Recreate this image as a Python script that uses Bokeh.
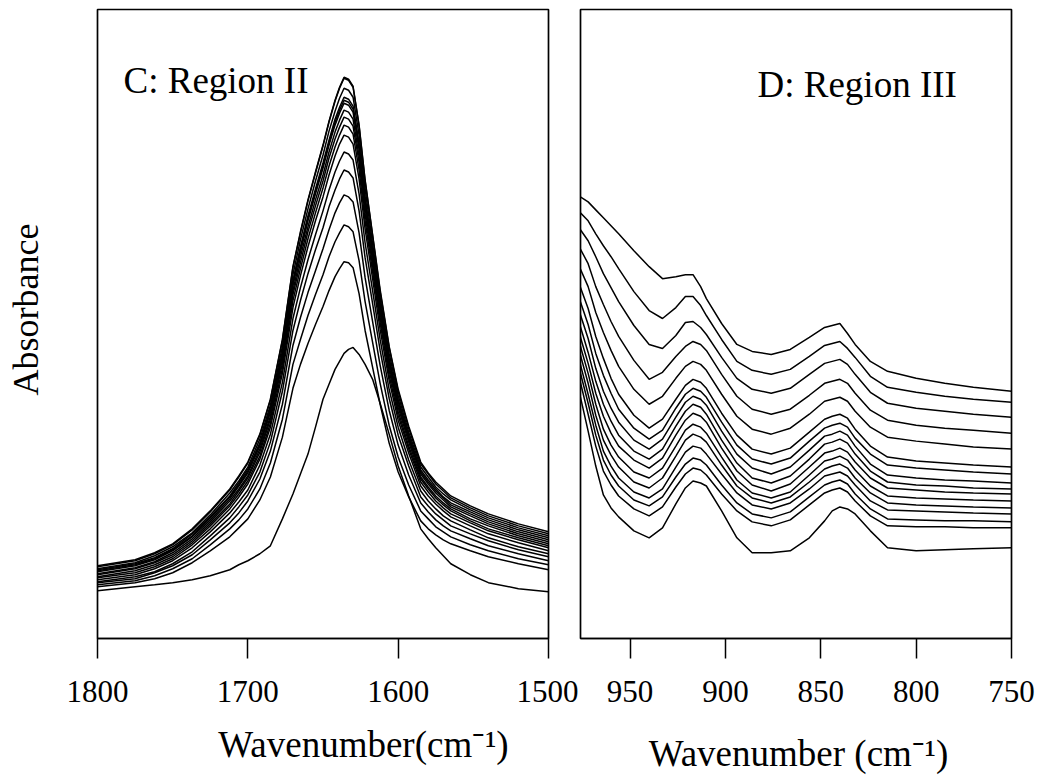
import math
from bokeh.plotting import figure
from bokeh.layouts import row, column
from bokeh.models import Label, FixedTicker, Range1d
from bokeh.embed import file_html
from bokeh.resources import INLINE

# ---------------- Panel C: Region II (amide I band) ----------------
wn_c = [1800, 1775, 1762, 1750, 1737, 1725, 1712, 1706, 1700, 1692, 1685, 1677, 1670, 1665, 1660, 1655,
        1650, 1646, 1642, 1639, 1636, 1633, 1630, 1626, 1622, 1617, 1612, 1606, 1600, 1593, 1585, 1580,
        1575, 1570, 1565, 1552, 1540, 1520, 1500]
c01 = [73, 79, 86, 95, 110, 128, 150, 163, 177, 205, 240, 300, 373, 408, 440, 468, 495, 519, 540, 553, 563, 561, 554, 515, 460, 405, 350, 293, 250, 213, 177, 166, 157, 150, 143, 133, 125, 115, 107]
c02 = [72, 78, 85, 94, 109, 127, 149, 162, 176, 204, 239, 299, 372, 407, 439, 467, 494, 518, 539, 552, 562, 560, 553, 514, 459, 404, 348, 292, 248, 211, 175, 165, 155, 148, 141, 131, 123, 113, 105]
c03 = [70, 76, 83, 92, 106, 124, 146, 158, 172, 200, 234, 293, 365, 400, 431, 459, 485, 509, 529, 542, 552, 550, 543, 505, 451, 396, 342, 286, 244, 207, 172, 162, 152, 145, 139, 129, 121, 111, 103]
c04 = [69, 75, 81, 90, 105, 122, 143, 156, 170, 196, 231, 288, 359, 393, 424, 451, 477, 500, 521, 533, 543, 541, 534, 497, 443, 390, 337, 281, 240, 204, 169, 159, 150, 142, 136, 127, 119, 109, 101]
c05 = [68, 74, 80, 89, 103, 121, 142, 154, 168, 195, 229, 286, 357, 390, 422, 448, 474, 497, 518, 530, 540, 538, 531, 494, 440, 387, 334, 279, 238, 202, 167, 157, 148, 141, 134, 125, 117, 107, 99]
c06 = [67, 73, 79, 88, 102, 119, 140, 153, 166, 193, 227, 284, 354, 388, 419, 446, 472, 495, 515, 527, 537, 535, 528, 491, 438, 385, 332, 277, 235, 200, 165, 155, 146, 139, 132, 123, 115, 105, 97]
c07 = [65, 71, 77, 86, 100, 117, 138, 150, 163, 190, 223, 280, 349, 383, 413, 440, 465, 488, 508, 520, 530, 528, 521, 484, 432, 379, 327, 273, 232, 197, 162, 152, 143, 136, 130, 120, 113, 103, 95]
c08 = [64, 70, 76, 84, 98, 115, 135, 148, 161, 187, 220, 276, 345, 377, 408, 434, 459, 482, 501, 513, 523, 521, 514, 478, 426, 374, 322, 269, 228, 193, 160, 150, 141, 134, 128, 118, 110, 101, 93]
c09 = [62, 68, 74, 82, 96, 113, 133, 145, 158, 183, 216, 271, 339, 371, 401, 427, 452, 474, 493, 505, 515, 513, 506, 470, 419, 368, 317, 264, 224, 190, 157, 147, 138, 131, 125, 116, 108, 99, 91]
c10 = [61, 66, 72, 80, 94, 110, 130, 142, 155, 180, 212, 266, 332, 364, 393, 419, 443, 465, 484, 496, 505, 503, 496, 461, 411, 361, 310, 259, 219, 186, 153, 143, 135, 128, 122, 113, 105, 96, 88]
c11 = [59, 64, 70, 78, 91, 107, 126, 137, 149, 174, 205, 257, 321, 352, 380, 405, 429, 450, 468, 479, 488, 486, 480, 446, 397, 349, 300, 250, 212, 179, 148, 138, 130, 123, 118, 109, 101, 92, 85]
c12 = [57, 62, 67, 75, 87, 103, 121, 132, 144, 167, 197, 248, 309, 339, 366, 390, 412, 433, 450, 461, 470, 468, 462, 429, 382, 336, 289, 241, 204, 173, 142, 133, 125, 119, 113, 105, 98, 89, 82]
c13 = [56, 60, 66, 73, 84, 99, 116, 126, 138, 160, 188, 235, 294, 322, 347, 369, 391, 410, 427, 437, 445, 443, 438, 407, 362, 318, 274, 229, 194, 164, 136, 127, 119, 113, 108, 100, 93, 85, 78]
c14 = [54, 58, 63, 70, 80, 94, 110, 119, 130, 150, 176, 220, 275, 300, 324, 345, 365, 383, 398, 407, 415, 413, 408, 379, 338, 297, 256, 214, 182, 154, 128, 120, 112, 107, 102, 94, 88, 80, 74]
c15 = [52, 56, 60, 66, 76, 88, 102, 111, 120, 139, 162, 202, 251, 275, 296, 315, 333, 349, 363, 371, 378, 377, 372, 346, 309, 272, 235, 196, 167, 142, 118, 110, 104, 99, 95, 88, 82, 75, 69]
c16 = [48, 52, 54, 56, 59, 63, 69, 74, 78, 85, 93, 120, 145, 165, 185, 212, 240, 255, 270, 278, 286, 290, 292, 285, 275, 260, 236, 205, 173, 143, 110, 100, 91, 83, 75, 64, 56, 50, 47]
curves_c = [c01, c02, c03, c04, c05, c06, c07, c08, c09, c10, c11, c12, c13, c14, c15, c16]
ticks_c = [1800, 1700, 1600, 1500]

# ---------------- Panel D: Region III ----------------
wn_d = [980, 972, 968, 964, 960, 956, 948, 940, 933, 926, 921, 917, 913, 910, 902, 894,
        886, 876, 866, 856, 848, 844, 840, 836, 832, 824, 815, 800, 785, 770, 750]
d01 = [450, 440, 432, 424, 416, 408, 391, 375, 363, 365, 367, 367, 355, 343, 318, 297, 290, 287, 292, 304, 314, 316, 318, 308, 297, 280, 270, 263, 258, 254, 250]
d02 = [437, 421, 408, 396, 385, 373, 350, 331, 323, 334, 345, 345, 336, 326, 302, 280, 271, 267, 272, 285, 296, 298, 300, 293, 284, 265, 254, 249, 245, 242, 239]
d03 = [423, 401, 385, 368, 354, 340, 316, 297, 293, 306, 319, 320, 314, 307, 284, 263, 252, 248, 253, 267, 278, 280, 282, 277, 267, 249, 238, 233, 230, 227, 224]
d04 = [407, 378, 355, 337, 320, 305, 281, 262, 269, 285, 295, 300, 297, 291, 267, 245, 232, 227, 232, 246, 258, 260, 262, 258, 248, 231, 221, 216, 213, 211, 208]
d05 = [390, 355, 329, 309, 291, 275, 252, 237, 245, 263, 275, 280, 277, 271, 247, 225, 212, 207, 213, 227, 240, 242, 244, 240, 230, 214, 204, 200, 197, 194, 192]
d06 = [375, 333, 305, 283, 263, 247, 226, 213, 222, 242, 256, 262, 259, 253, 228, 206, 192, 187, 193, 209, 222, 225, 227, 223, 212, 195, 184, 180, 178, 176, 174]
d07 = [362, 317, 288, 266, 248, 232, 213, 202, 211, 233, 247, 253, 250, 244, 219, 196, 182, 177, 183, 200, 213, 216, 218, 214, 203, 187, 176, 173, 171, 169, 167]
d08 = [350, 303, 273, 250, 233, 219, 201, 192, 202, 224, 239, 245, 242, 236, 210, 187, 173, 167, 174, 191, 205, 207, 210, 206, 195, 177, 166, 163, 161, 160, 158]
d09 = [340, 289, 260, 237, 220, 206, 190, 182, 192, 215, 230, 237, 234, 227, 201, 178, 163, 158, 165, 182, 197, 199, 202, 198, 187, 170, 159, 156, 155, 153, 152]
d10 = [330, 278, 248, 225, 208, 195, 181, 173, 183, 206, 221, 228, 225, 219, 193, 170, 156, 150, 157, 174, 188, 190, 193, 189, 179, 163, 153, 151, 149, 148, 147]
d11 = [322, 268, 237, 212, 196, 184, 169, 163, 173, 195, 211, 217, 214, 208, 184, 161, 148, 143, 149, 166, 180, 182, 185, 181, 171, 155, 145, 143, 142, 141, 140]
d12 = [314, 258, 226, 201, 186, 174, 159, 153, 163, 185, 201, 207, 204, 199, 176, 155, 143, 138, 144, 159, 172, 175, 177, 173, 163, 148, 138, 136, 135, 134, 133]
d13 = [306, 247, 216, 190, 175, 163, 149, 143, 152, 174, 189, 195, 193, 187, 167, 148, 136, 132, 138, 152, 165, 167, 169, 165, 156, 140, 131, 130, 129, 128, 127]
d14 = [298, 238, 206, 181, 166, 155, 141, 135, 144, 164, 177, 183, 181, 176, 156, 138, 127, 123, 129, 144, 156, 159, 161, 157, 147, 132, 122, 121, 120, 120, 119]
d15 = [290, 227, 195, 170, 156, 145, 132, 125, 134, 154, 167, 173, 171, 166, 147, 130, 119, 115, 121, 136, 148, 151, 153, 149, 140, 125, 115, 114, 114, 113, 113]
d16 = [278, 210, 175, 146, 133, 124, 110, 103, 113, 137, 153, 160, 158, 155, 130, 103, 88, 88, 90, 103, 120, 130, 134, 132, 127, 110, 93, 90, 91, 92, 93]
curves_d = [d01, d02, d03, d04, d05, d06, d07, d08, d09, d10, d11, d12, d13, d14, d15, d16]
ticks_d = [950, 900, 850, 800, 750]

FONT = "Liberation Serif"
TOP_H = 720


def style(p, ticks):
    p.grid.visible = False
    p.background_fill_color = "white"
    p.border_fill_color = "white"
    p.outline_line_color = "black"
    p.outline_line_width = 1.7
    ax = p.xaxis[0]
    ax.ticker = FixedTicker(ticks=ticks)
    ax.major_tick_out = 20
    ax.major_tick_in = 0
    ax.minor_tick_out = 0
    ax.minor_tick_in = 0
    ax.axis_line_width = 1.7
    ax.axis_line_color = "black"
    ax.major_tick_line_width = 1.5
    ax.major_tick_line_color = "black"
    ax.major_label_text_font = FONT
    ax.major_label_text_font_size = "31px"
    ax.major_label_text_color = "black"
    ax.major_label_standoff = 22


def blank(width, height):
    b = figure(width=width, height=height, x_range=Range1d(0, 1), y_range=Range1d(0, 1),
               output_backend="svg", toolbar_location=None,
               x_axis_location=None, y_axis_location=None, min_border=0)
    b.grid.visible = False
    b.outline_line_color = None
    b.background_fill_color = "white"
    b.border_fill_color = "white"
    return b


# left strip carrying the y-axis title
pa = blank(60, TOP_H)
pa.add_layout(Label(x=25, y=329, x_units="screen", y_units="screen", text="Absorbance",
                    angle=math.pi / 2, text_font=FONT, text_font_size="36px", text_color="black",
                    text_align="center", text_baseline="middle"))

p1 = figure(width=518, height=TOP_H, x_range=Range1d(1800, 1500), y_range=Range1d(0, 631),
            output_backend="svg", toolbar_location=None, y_axis_location=None,
            min_border_left=37, min_border_right=30, min_border_top=9, min_border_bottom=TOP_H - 640)
style(p1, ticks_c)
for ys in curves_c:
    p1.line(wn_c, ys, line_color="black", line_width=1.5)
p1.add_layout(Label(x=26, y=558, x_units="screen", y_units="screen", text="C: Region II",
                    text_font=FONT, text_font_size="37px", text_color="black",
                    text_align="left", text_baseline="alphabetic"))

p2 = figure(width=465, height=TOP_H, x_range=Range1d(976, 750), y_range=Range1d(2, 633),
            output_backend="svg", toolbar_location=None, y_axis_location=None,
            min_border_left=2, min_border_right=32, min_border_top=7, min_border_bottom=TOP_H - 638)
style(p2, ticks_d)
for ys in curves_d:
    p2.line(wn_d, ys, line_color="black", line_width=1.5)
p2.add_layout(Label(x=177, y=554, x_units="screen", y_units="screen", text="D: Region III",
                    text_font=FONT, text_font_size="37px", text_color="black",
                    text_align="left", text_baseline="alphabetic"))

# bottom strip carrying the x-axis titles
BOT_H = 777 - TOP_H
pb = blank(1043, BOT_H)
pb.add_layout(Label(x=363, y=33, x_units="screen", y_units="screen", text="Wavenumber(cm\u207b\u00b9)",
                    text_font=FONT, text_font_size="37px", text_color="black",
                    text_align="center", text_baseline="alphabetic"))
pb.add_layout(Label(x=798, y=24, x_units="screen", y_units="screen", text="Wavenumber (cm\u207b\u00b9)",
                    text_font=FONT, text_font_size="37px", text_color="black",
                    text_align="center", text_baseline="alphabetic"))

layout = column(row(pa, p1, p2), pb)
open("out.html", "w").write(file_html(layout, INLINE))
